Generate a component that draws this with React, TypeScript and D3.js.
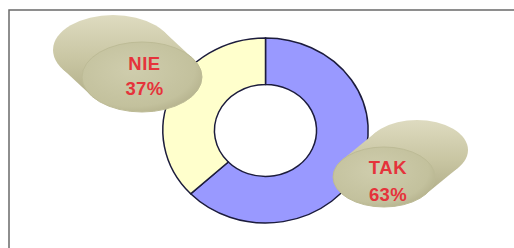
import React from "react";
import * as d3 from "d3";

const categories = ["TAK", "NIE"];
const values = [63, 37];
const colors = ["#9999ff", "#ffffcc"];

const W = 514, H = 248;
const cx = 265.5, cy = 130.5;
const outerR = 92.5, innerR = 46;
const xStretch = 1.11;

// callout cylinder layout (front centre, back offset, radii, text offsets)
const callouts = [
  { fx: 384, fy: 177, dx: 33, dy: -27, rx: 51, ry: 30, tx: 4, t1: -3, t2: 24 },
  { fx: 142, fy: 77, dx: -29, dy: -27, rx: 60, ry: 35, tx: 2.5, t1: -7, t2: 18 },
];

function Cylinder({ c, id }: { c: any; id: string }) {
  const { fx, fy, dx, dy, rx, ry } = c;
  const bx = fx + dx, by = fy + dy;
  const t = Math.atan2(-ry * dx, rx * dy);
  const p = (tt: number) => [rx * Math.cos(tt), ry * Math.sin(tt)];
  const [ax, ay] = p(t);
  const [ex, ey] = p(t + Math.PI);
  const poly = `M${fx + ax},${fy + ay} L${bx + ax},${by + ay} L${bx + ex},${by + ey} L${fx + ex},${fy + ey} Z`;
  const top = Math.min(by, fy) - ry, bot = Math.max(by, fy) + ry;
  return (
    <g>
      <defs>
        <linearGradient id={id + "b"} gradientUnits="userSpaceOnUse" x1={0} y1={top} x2={0} y2={bot}>
          <stop offset="0" stopColor="#dedbc0" />
          <stop offset="0.45" stopColor="#c9c6a3" />
          <stop offset="1" stopColor="#a9a680" />
        </linearGradient>
        <radialGradient id={id + "f"} cx="0.42" cy="0.4" r="0.65">
          <stop offset="0" stopColor="#cfcdad" />
          <stop offset="0.8" stopColor="#c3c19d" />
          <stop offset="1" stopColor="#b5b28d" />
        </radialGradient>
      </defs>
      <ellipse cx={bx} cy={by} rx={rx} ry={ry} fill={`url(#${id}b)`} />
      <path d={poly} fill={`url(#${id}b)`} />
      <ellipse cx={fx} cy={fy} rx={rx} ry={ry} fill={`url(#${id}f)`} stroke="#bdbb96" strokeWidth={1} />
    </g>
  );
}

export default function App() {
  const pie = d3.pie<number>().sort(null).value((d) => d)(values);
  const arc = d3.arc<d3.PieArcDatum<number>>().innerRadius(innerR).outerRadius(outerR);
  const total = d3.sum(values);
  return (
    <svg width={W} height={H} style={{ position: "absolute", left: 0, top: 0, background: "#fff" }}
      fontFamily="'Liberation Sans', Arial, sans-serif">
      <rect x={9} y={10} width={W + 20} height={H + 20} fill="#fff" stroke="#6a6a6a" strokeWidth={1.5} />
      <g transform={`translate(${cx},${cy}) scale(${xStretch},1)`}>
        {pie.map((d, i) => (
          <path key={categories[i]} d={arc(d) || ""} fill={colors[i]} stroke="#1c1c3c"
            strokeWidth={1.5} vectorEffect="non-scaling-stroke" />
        ))}
      </g>
      {pie.map((d, i) => {
        const c = callouts[i];
        return (
          <g key={"c" + i}>
            <Cylinder c={c} id={"cyl" + i} />
            <text x={c.fx + c.tx} y={c.fy + c.t1} textAnchor="middle" fontWeight="bold" fontSize={18.5}
              letterSpacing={0.6} fill="#e5333b">
              {categories[i]}
            </text>
            <text x={c.fx + c.tx} y={c.fy + c.t2} textAnchor="middle" fontWeight="bold" fontSize={18.5}
              letterSpacing={0.3} fill="#e5333b">
              {Math.round((d.value / total) * 100) + "%"}
            </text>
          </g>
        );
      })}
    </svg>
  );
}
